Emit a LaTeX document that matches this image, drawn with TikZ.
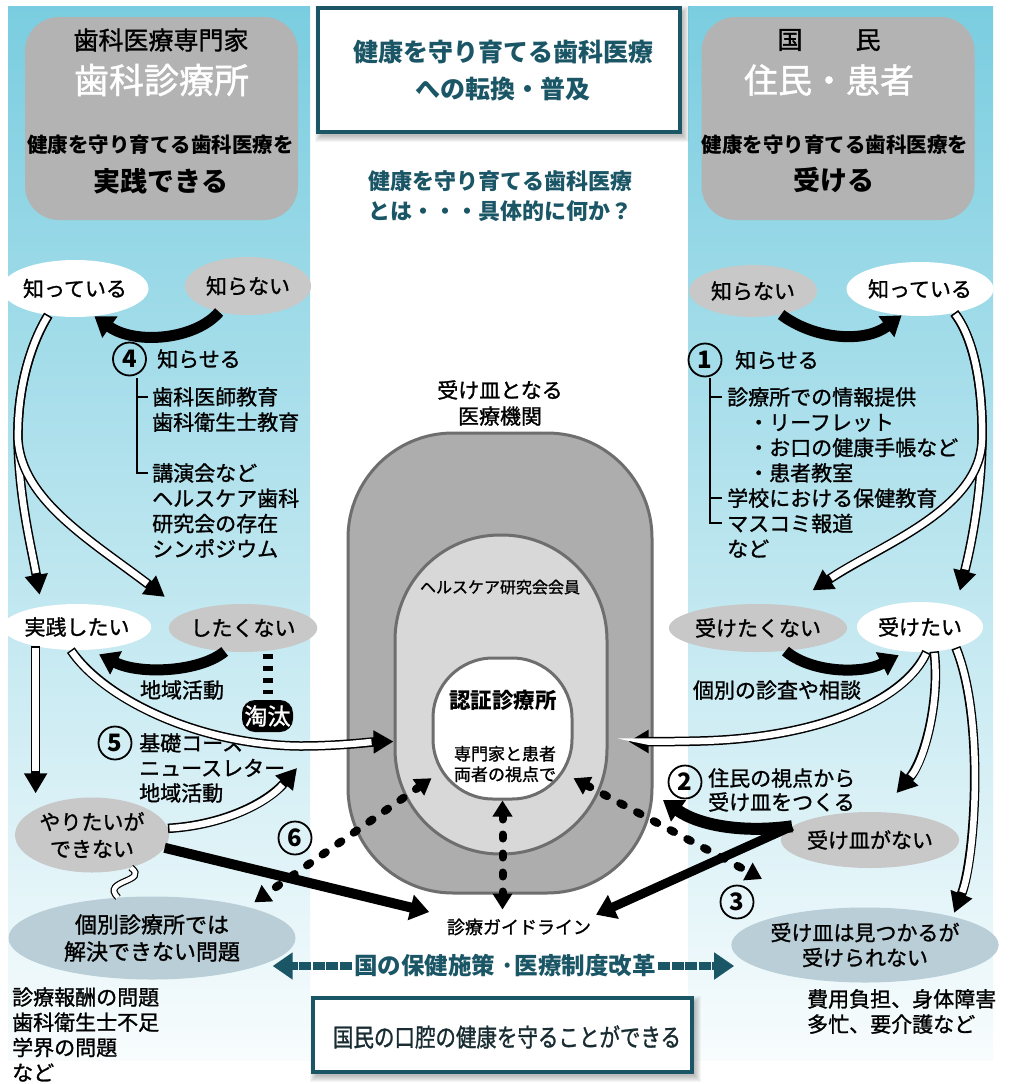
\documentclass[tikz,border=0pt]{standalone}
\usepackage{fontspec}
\setmainfont{Noto Sans CJK JP}[UprightFeatures={FakeBold=1.2}]
\usetikzlibrary{shapes.geometric,arrows.meta,calc}
\definecolor{tealc}{RGB}{27,86,102}
\definecolor{boxgray}{RGB}{179,179,179}
\definecolor{ellgray}{RGB}{200,200,200}
\definecolor{blgray}{RGB}{185,206,214}
\definecolor{outgray}{RGB}{173,173,173}
\definecolor{midgray}{RGB}{216,216,216}
\definecolor{edgegray}{RGB}{110,110,110}
\definecolor{pantop}{RGB}{122,205,224}
\definecolor{panmid}{RGB}{190,229,238}
\definecolor{panbot}{RGB}{248,252,253}
\definecolor{darktxt}{RGB}{24,44,50}
\newcommand{\fsz}[2]{\fontsize{#1}{#2}\selectfont}
\tikzset{
  hdbox/.style={fill=boxgray, rounded corners=34pt, minimum width=273pt, minimum height=203pt, inner sep=0pt},
  ell/.style={ellipse, inner sep=0pt, align=center, font=\fsz{21}{26}},
  txt/.style={inner sep=0pt, align=left, font=\fsz{21}{25.3}},
  circnum/.style={circle, draw=black, line width=1.8pt, minimum size=33pt, inner sep=0pt, font=\fsz{24}{24}\bfseries},
  blk/.style={line width=11pt, black, -{Triangle[length=19pt,width=25pt]}, shorten >=#1},
  blk/.default=0pt,
  warr/.style={line width=9.5pt, black, -{Triangle[length=20pt,width=22pt]}, shorten >=#1,
    postaction={draw=white, line width=6.5pt, -, shorten >=#1+22pt, shorten <=1.5pt}},
  warr/.default=0pt,
  dotarr/.style={line width=8pt, line cap=round, dash pattern=on 4pt off 15pt,
    {Triangle[length=16pt,width=19pt]}-{Triangle[length=16pt,width=19pt]}},
  tarr/.style={line width=8pt, draw=tealc, -{Triangle[length=20pt,width=26pt]}, dash pattern=on 12pt off 1.5pt},
  titl/.style={inner sep=0pt, align=center, text=tealc, font=\fsz{25}{37}\bfseries},
  subt/.style={inner sep=0pt, align=center, text=tealc, font=\fsz{22}{30}\bfseries},
  polt/.style={inner sep=2pt, text=tealc, font=\fsz{23.5}{26}\bfseries},
  bott/.style={inner sep=0pt, text=darktxt, font=\fsz{25}{28}},
  dashl/.style={line width=10pt, dash pattern=on 5pt off 7pt},
}
\begin{document}
\begin{tikzpicture}[x=1pt,y=-1pt]
\useasboundingbox (0,0) rectangle (1013,1084);
\fill[white] (0,0) rectangle (1013,1084);
% side panels
\shade[top color=pantop, middle color=panmid, bottom color=panbot] (8,6) rectangle (310,1060);
\shade[top color=pantop, middle color=panmid, bottom color=panbot] (688,6) rectangle (993,1060);

% header boxes
\node[hdbox] (lbox) at (161.5,118.5) {};
\node[font=\fsz{25}{25}] (lt1) at (161,40) {歯科医療専門家};
\node[font=\fsz{35}{35}, text=white] (lt2) at (161.5,80) {歯科診療所};
\node[font=\fsz{20.5}{24}\bfseries] (lt3) at (160.5,145) {健康を守り育てる歯科医療を};
\node[font=\fsz{27}{27}\bfseries] (lt4) at (161,181) {実践できる};

\node[hdbox] (rbox) at (838,118.5) {};
\node[font=\fsz{25}{25}] (rt1) at (829,40) {国\hspace{53pt}民};
\node[font=\fsz{34}{34}, text=white] (rt2) at (829,80) {住民・患者};
\node[font=\fsz{20.5}{24}\bfseries] (rt3) at (835,145) {健康を守り育てる歯科医療を};
\node[font=\fsz{27}{27}\bfseries] (rt4) at (834,180) {受ける};

% top centre title box
\foreach \i in {0,...,6}{\fill[black,opacity=0.04] (318+3-\i,8+4-\i) rectangle (680+3+\i,132+4+\i);}
\node[draw=tealc, line width=3.5pt, fill=white, minimum width=362pt, minimum height=124pt, inner sep=0pt] (tbox) at (499,70) {};
\node[titl] (tt1) at (503,70.5) {健康を守り育てる歯科医療\\への転換・普及};
\node[subt] (tt2) at (500,196) {健康を守り育てる歯科医療\\とは・・・具体的に何か？};

% centre nested shapes
\node[font=\fsz{21}{26}, align=center, inner sep=0pt] (ukesara) at (500,403) {受け皿となる\\医療機関};
\node[draw=edgegray, line width=3pt, fill=outgray, rounded corners=105pt, minimum width=304pt, minimum height=460pt, inner sep=0pt] (outr) at (500,663) {};
\node[draw=edgegray, line width=3pt, fill=midgray, rounded corners=105pt, minimum width=212pt, minimum height=319pt, inner sep=0pt] (mid) at (501,694.5) {};
\node[draw=edgegray, line width=3pt, fill=white, rounded corners=60pt, minimum width=139pt, minimum height=141pt, inner sep=0pt] (inn) at (502.5,728.5) {};
\node[font=\fsz{16}{18}, inner sep=0pt] (hc) at (500,587) {ヘルスケア研究会会員};
\node[font=\fsz{21.5}{24}\bfseries, inner sep=0pt] (nin) at (503,700) {認証診療所};
\node[font=\fsz{17}{20.5}, align=center, inner sep=0pt] (sen) at (505,764) {専門家と患者\\両者の視点で};
\node[font=\fsz{18}{20}, inner sep=3pt] (gd) at (519,927) {診療ガイドライン};

% left ellipses
\node[ell, fill=white, minimum width=124pt, minimum height=57pt] (kL) at (75,288.5) {知っている};
\node[ell, fill=ellgray, minimum width=126pt, minimum height=58pt] (nkL) at (248,286) {知らない};
\node[ell, fill=white, minimum width=124pt, minimum height=46pt] (jL) at (77,627) {実践したい};
\node[ell, fill=ellgray, minimum width=126pt, minimum height=48pt] (nwL) at (243,628) {したくない};
\node[ell, fill=ellgray, minimum width=154pt, minimum height=75pt, font=\fsz{21}{27}] (yL) at (92,835) {やりたいが\\できない};
\node[ell, fill=blgray, minimum width=287pt, minimum height=83pt, font=\fsz{22}{27}] (pL) at (152,938) {個別診療所では\\解決できない問題};

% right ellipses
\node[ell, fill=ellgray, minimum width=128pt, minimum height=52pt] (nkR) at (753,291) {知らない};
\node[ell, fill=white, minimum width=128pt, minimum height=54pt] (kR) at (920,289) {知っている};
\node[ell, fill=ellgray, minimum width=133pt, minimum height=48pt] (nuR) at (758,628) {受けたくない};
\node[ell, fill=white, minimum width=126pt, minimum height=50pt] (uR) at (920,627) {受けたい};
\node[ell, fill=ellgray, minimum width=134pt, minimum height=56pt] (noR) at (870,840) {受け皿がない};
\node[ell, fill=blgray, minimum width=234pt, minimum height=75pt, font=\fsz{21}{25}] (fR) at (865,945) {受け皿は見つかるが\\受けられない};

% left texts
\node[circnum] (n4) at (129.5,359) {4};
\node[txt, anchor=west] (t4) at (157,359) {知らせる};
\coordinate (b4a) at (137,378);
\coordinate (b4b) at (137,473);
\coordinate (b4c) at (148,473);
\coordinate (b4d) at (137,397);
\coordinate (b4e) at (148,397);
\draw[line width=1.6pt] (b4a) -- (b4b) -- (b4c);
\draw[line width=1.6pt] (b4d) -- (b4e);
\node[txt, anchor=west] (l4a) at (152,409.5) {歯科医師教育\\歯科衛生士教育};
\node[txt, anchor=west] (l4b) at (152,510.5) {講演会など\\ヘルスケア歯科\\研究会の存在\\シンポジウム};
\node[txt] (chiiki) at (182,690) {地域活動};
\node[circnum] (n5) at (115,743) {5};
\node[txt, anchor=west, font=\fsz{21}{25}] (t5) at (139,768) {基礎コース\\ニュースレター\\地域活動};
\node[circnum] (n6) at (295,838) {6};
\node[txt, anchor=west, font=\fsz{21}{25.2}] (bl) at (12,1034.5) {診療報酬の問題\\歯科衛生士不足\\学界の問題\\など};

% right texts
\node[circnum] (n1) at (705,360) {1};
\node[txt, anchor=west] (t1) at (735,360) {知らせる};
\coordinate (b1a) at (710,378);
\coordinate (b1b) at (710,523);
\coordinate (b1c) at (722,523);
\coordinate (b1d) at (710,397);
\coordinate (b1e) at (722,397);
\coordinate (b1f) at (710,498);
\coordinate (b1g) at (722,498);
\draw[line width=1.6pt] (b1a) -- (b1b) -- (b1c);
\draw[line width=1.6pt] (b1d) -- (b1e);
\draw[line width=1.6pt] (b1f) -- (b1g);
\node[txt, anchor=west] (l1) at (727,472.5) {診療所での情報提供\\\hspace*{21pt}・リーフレット\\\hspace*{21pt}・お口の健康手帳など\\\hspace*{21pt}・患者教室\\学校における保健教育\\マスコミ報道\\など};
\node[txt] (shinsa) at (777,690) {個別の診査や相談};
\node[circnum] (n2) at (685,782) {2};
\node[txt, anchor=west, font=\fsz{21}{24}] (t2) at (708,790) {住民の視点から\\受け皿をつくる};
\node[circnum] (n3) at (737,902) {3};
\node[txt, anchor=west] (br) at (807,1011.5) {費用負担、身体障害\\多忙、要介護など};

% elimination
\node[fill=black, rounded corners=13pt, minimum width=51pt, minimum height=32pt, inner sep=0pt, text=white, font=\fsz{23}{23}] (tota) at (267.5,716) {淘汰};
\draw[dashl] ([yshift=-2pt]tota.north |- nwL.south) -- ([yshift=6pt]tota.north);

% coordinates for free ends
\coordinate (f5) at (297,768);
\coordinate (c2) at (663,800);
\coordinate (d3) at (762,879);

% black arrows
\draw[blk] (nkL.222) .. controls (195,340) and (135,345) .. (kL.305);
\draw[blk] (nkR.320) .. controls (815,340) and (865,343) .. (kR.235);
\draw[blk=10pt] (nwL.232) .. controls (200,672) and (140,675) .. (jL.300);
\draw[blk=8pt] (nuR.320) .. controls (810,672) and (860,675) .. (uR.240);
\draw[blk=15pt, line width=10pt] (yL.350) -- (gd.north west);
\draw[blk=2pt, line width=9pt] (noR.170) -- (gd.north east);
\draw[blk, line width=12pt] (noR.170) .. controls (745,833) and (700,826) .. (c2);

% white arrows
\draw[warr=12pt] (kL.225) .. controls (30,345) and (17,390) .. (18,440) .. controls (19,500) and (32,550) .. (jL.150);
\draw[warr=26pt] (kL.225) .. controls (30,345) and (17,390) .. (18,440) .. controls (22,500) and (90,540) .. (nwL.165);
\draw[warr=16pt] (kR.325) .. controls (975,340) and (983,390) .. (982,440) .. controls (981,500) and (970,550) .. (uR.30);
\draw[warr=27pt] (kR.325) .. controls (975,340) and (983,390) .. (982,440) .. controls (980,510) and (880,545) .. (nuR.35);
\draw[warr=4pt] (jL.205) -- (jL.205 |- yL.north);
\draw[warr] (yL.5) .. controls (225,825) and (268,802) .. (f5);
\draw[warr] (jL.255) .. controls (105,700) and (200,745) .. (300,746) .. controls (340,746) and (370,742) .. ([yshift=-47pt]mid.west);
\draw[warr=20pt] (uR.285) .. controls (905,700) and (820,738) .. (700,741) .. controls (660,742) and (640,741.5) .. ([yshift=-47pt]mid.east);
\draw[warr=25pt] (uR.300) .. controls (940,700) and (925,760) .. (noR.70);
\draw[warr=4pt] (uR.330) .. controls (985,720) and (975,860) .. (fR.18);
\draw[double=white, double distance=4.5pt, line width=1.2pt] (yL.320) .. controls (150,882) and (100,880) .. (pL.130);

% dotted arrows
\draw[dotarr, shorten >=8pt] (inn.215) -- (pL.18);
\draw[dotarr] (inn.325) -- (d3);
\draw[dotarr, shorten >=6pt] (inn.south) -- (inn.south |- gd.north);

% policy
\node[polt] (pol) at (505,966) {国の保健施策 ·医療制度改革};
\draw[tarr, shorten >=-23pt] (pol.west) -- (pol.west -| pL.east);
\draw[tarr, shorten >=-3pt] (pol.east) -- (pol.east -| fR.west);

% bottom box
\foreach \i in {0,...,6}{\fill[black,opacity=0.04] (313+3-\i,998+4-\i) rectangle (692+3+\i,1072+4+\i);}
\node[draw=tealc, line width=3.5pt, fill=white, minimum width=379pt, minimum height=74pt, inner sep=0pt] (bbox) at (502.5,1035) {};
\node[bott, xscale=0.82, transform shape] (bbt) at (507,1037) {国民の口腔の健康を守ることができる};
\end{tikzpicture}
\end{document}
